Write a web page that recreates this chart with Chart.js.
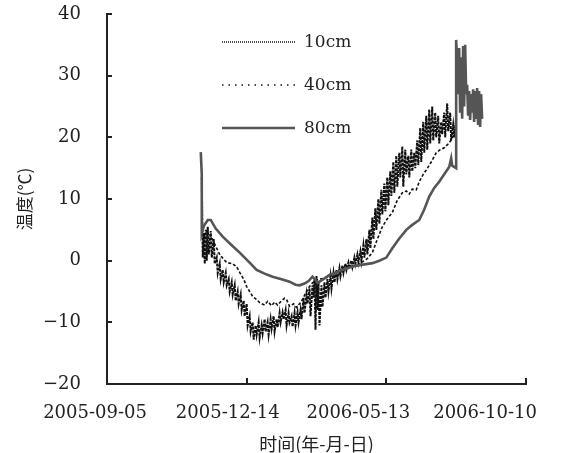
<!DOCTYPE html>
<html>
<head>
<meta charset="utf-8">
<script src="https://cdn.jsdelivr.net/npm/chart.js@4.4.0/dist/chart.umd.min.js"></script>
<style>
  body { margin: 0; background: #fff; }
  #wrap { width: 565px; height: 453px; }
</style>
</head>
<body>
<div id="wrap"><canvas id="soilTempChart" width="565" height="453"></canvas></div>
<script>
// x runs 0..420, one date label every 140 units
const xTickPos = [0, 140, 280, 420];
const xLabelPos = [-12, 121, 252, 379]; // labels sit a bit left of their ticks in the original
const xLabels = ["2005-09-05", "2005-12-14", "2006-05-13", "2006-10-10"];
const seriesNames = ["10cm", "40cm", "80cm"];

// [x, temperature °C]
const soil10 = [
  [95,13.5],[96,0.5],[97,4.5],[98,-0.5],[99,5.0],[100,0.0],[101,5.5],[102,1.0],[104,4.8],[105,0.5],
  [107,3.5],[108,-0.5],[110,0.5],[111,-2.0],[113,-0.5],[114,-3.0],[116,-1.5],[117,-3.5],[119,-2.0],[120,-4.0],
  [122,-3.0],[123,-5.0],[125,-3.5],[126,-5.5],[128,-4.0],[129,-6.5],[131,-5.0],[132,-7.0],[134,-5.5],[135,-8.0],
  [137,-6.5],[138,-9.0],[140,-7.0],[141,-10.5],[143,-9.0],[144,-11.5],[146,-10.0],[147,-12.8],[149,-10.5],[150,-12.0],
  [152,-10.0],[153,-12.5],[155,-10.5],[156,-11.8],[158,-9.5],[159,-11.5],[161,-10.0],[162,-12.0],[164,-9.5],[165,-11.0],
  [167,-9.0],[168,-11.5],[170,-9.5],[171,-10.8],[173,-8.5],[174,-10.0],[176,-8.4],[177,-9.5],[179,-8.0],[180,-10.5],
  [182,-8.5],[183,-10.0],[185,-9.0],[186,-10.7],[188,-8.5],[189,-10.5],[191,-8.4],[192,-10.0],[194,-8.0],[195,-9.5],
  [197,-6.0],[198,-8.5],[200,-5.5],[201,-7.0],[203,-4.5],[204,-9.0],[206,-4.0],[207,-6.0],[208,-3.0],[209,-11.2],
  [210,-2.5],[211,-8.0],[212,-3.5],[213,-10.5],[215,-4.0],[216,-7.5],[218,-3.5],[219,-6.0],[221,-3.0],[222,-5.0],
  [224,-2.5],[225,-4.5],[227,-2.0],[228,-3.5],[230,-1.5],[231,-3.0],[233,-1.2],[234,-2.5],[236,-0.8],[237,-2.0],
  [239,-0.5],[240,-1.5],[242,-0.3],[243,-1.2],[245,0.0],[246,-1.0],[248,0.5],[249,-0.5],[251,1.0],[252,-0.2],
  [254,1.5],[255,0.0],[257,2.5],[258,0.5],[260,3.5],[261,1.0],[263,5.0],[264,2.0],[266,7.0],[267,3.5],
  [269,8.5],[270,5.0],[272,10.0],[273,6.0],[275,11.5],[276,7.5],[278,12.5],[279,8.0],[281,13.5],[282,9.0],
  [284,14.5],[285,10.5],[287,16.0],[288,11.0],[290,17.0],[291,12.0],[293,17.5],[294,13.5],[296,18.5],[297,12.0],
  [299,18.0],[300,14.0],[302,17.0],[303,13.5],[305,18.0],[306,14.5],[308,17.5],[309,15.0],[311,19.5],[312,15.5],
  [314,21.5],[315,16.0],[317,22.5],[318,17.5],[320,23.5],[321,18.0],[323,24.5],[324,19.0],[326,25.0],[327,19.5],
  [329,24.0],[330,20.0],[332,23.5],[333,19.0],[335,22.5],[336,20.5],[338,24.0],[339,20.0],[341,25.5],[342,21.0],
  [344,24.0],[345,19.5],[347,22.0],[348,20.0],[350,23.0]
];

const soil40 = [
  [97,4.0],[100,4.8],[103,4.3],[106,3.4],[110,2.0],[113,1.0],[117,0.2],[120,-0.3],[126,-0.5],[130,-1.0],
  [133,-1.9],[137,-3.0],[140,-4.2],[143,-5.0],[146,-5.8],[150,-6.3],[153,-6.8],[158,-7.2],[161,-6.6],[165,-7.3],
  [168,-6.7],[171,-7.2],[175,-6.5],[178,-6.1],[180,-6.3],[183,-7.4],[187,-7.0],[190,-7.6],[193,-7.0],[196,-6.3],
  [199,-5.3],[203,-4.2],[206,-3.6],[210,-3.1],[216,-2.9],[223,-2.6],[230,-2.0],[236,-1.5],[243,-1.1],[250,-0.8],
  [256,-0.2],[260,0.2],[266,1.3],[271,3.5],[276,5.5],[281,6.8],[286,7.8],[291,9.8],[296,11.0],[300,11.3],
  [303,10.8],[306,11.6],[310,11.5],[313,12.8],[317,14.0],[320,14.7],[325,16.0],[330,17.5],[334,18.0],[338,18.3],
  [343,19.1],[346,19.8],[348,20.7],[350,22.0]
];

const soil80 = [
  [94,17.6],[95,14.0],[95,4.5],[97,5.6],[101,6.6],[104,6.6],[109,5.2],[116,3.9],[125,2.5],[133,1.3],
  [141,0.0],[150,-1.5],[158,-2.1],[166,-2.6],[175,-3.0],[183,-3.4],[189,-3.9],[193,-4.0],[198,-3.7],[202,-3.3],
  [206,-2.6],[209,-3.1],[211,-3.6],[217,-3.0],[223,-2.3],[230,-1.9],[236,-1.5],[243,-1.1],[250,-0.8],[258,-0.6],
  [266,-0.4],[273,0.0],[280,0.5],[286,2.0],[293,3.6],[300,5.0],[306,5.8],[313,6.6],[318,8.3],[323,10.4],
  [328,11.8],[333,12.8],[338,14.0],[343,15.2],[345,16.6],[346,15.4],[350,15.0],[350,35.8],[352,27.0],[353,34.5],
  [354,24.0],[355,33.0],[356,23.0],[357,34.8],[358,25.0],[359,35.0],[360,27.0],[361,28.5],[362,23.5],[363,27.5],
  [364,22.8],[365,27.0],[366,24.0],[367,27.8],[368,22.5],[369,27.5],[370,23.0],[371,28.0],[372,22.0],[373,27.5],
  [374,21.7],[375,27.0],[376,23.0]
];

const toPoints = (rows) => rows.map(([x, y]) => ({ x, y }));

// tick marks point into the plot in the original
const innerTicks = {
  id: "innerTicks",
  afterDraw(chart) {
    const { ctx, chartArea, scales } = chart;
    ctx.save();
    ctx.strokeStyle = "#222";
    ctx.lineWidth = 2;
    scales.y.ticks.forEach((t) => {
      const py = Math.round(scales.y.getPixelForValue(t.value));
      ctx.beginPath();
      ctx.moveTo(chartArea.left, py);
      ctx.lineTo(chartArea.left + 5, py);
      ctx.stroke();
    });
    xTickPos.forEach((v) => {
      const px = Math.round(scales.x.getPixelForValue(v));
      ctx.beginPath();
      ctx.moveTo(px, chartArea.bottom);
      ctx.lineTo(px, chartArea.bottom - 6);
      ctx.stroke();
    });
    ctx.restore();
  },
};

// legend stacked inside the plot, upper left
const plotLegend = {
  id: "plotLegend",
  afterDatasetsDraw(chart) {
    const { ctx, chartArea } = chart;
    const x0 = chartArea.left + 115;
    ctx.save();
    chart.data.datasets.forEach((ds, i) => {
      const y = chartArea.top + 28 + i * 43;
      ctx.strokeStyle = ds.borderColor;
      ctx.lineWidth = ds.legendWidth;
      ctx.setLineDash(ds.legendDash);
      ctx.beginPath();
      ctx.moveTo(x0, y);
      ctx.lineTo(x0 + 73, y);
      ctx.stroke();
      ctx.setLineDash([]);
      ctx.fillStyle = "#222";
      ctx.font = "17px 'DejaVu Serif'";
      ctx.textBaseline = "middle";
      ctx.fillText(ds.label, x0 + 82, y + 1);
    });
    ctx.restore();
  },
};

Chart.defaults.font.family = "'DejaVu Serif', serif";
Chart.defaults.color = "#222";

const ctx = document.getElementById("soilTempChart").getContext("2d");
const chart = new Chart(ctx, {
  type: "line",
  data: {
    datasets: [
      {
        label: seriesNames[0],
        data: toPoints(soil10),
        borderColor: "#111",
        borderWidth: 2,
        borderDash: [3, 1],
        legendDash: [1, 1],
        legendWidth: 1.5,
        order: 2,
      },
      {
        label: seriesNames[1],
        data: toPoints(soil40),
        borderColor: "#111",
        borderWidth: 1.6,
        borderDash: [3, 2],
        legendDash: [1.5, 5],
        legendWidth: 1.5,
        order: 1,
      },
      {
        label: seriesNames[2],
        data: toPoints(soil80),
        borderColor: "#555",
        borderWidth: 2.6,
        legendDash: [],
        legendWidth: 2.6,
        order: 0,
      },
    ],
  },
  options: {
    responsive: false,
    animation: false,
    devicePixelRatio: 1,
    layout: { padding: { top: 14, right: 39, bottom: 0, left: 0 } },
    elements: { point: { radius: 0 }, line: { tension: 0 } },
    plugins: { legend: { display: false }, tooltip: { enabled: false } },
    scales: {
      x: {
        type: "linear",
        min: 0,
        max: 420,
        grid: { display: false },
        border: { display: true, color: "#222", width: 2 },
        afterBuildTicks: (scale) => {
          scale.ticks = xLabelPos.map((v) => ({ value: v }));
        },
        afterFit: (scale) => {
          scale.height = 69;
          scale.paddingLeft = 0;
          scale.paddingRight = 0;
        },
        ticks: {
          autoSkip: false,
          maxRotation: 0,
          padding: 11,
          font: { size: 18 },
          callback: (value, index) => xLabels[index],
        },
        title: {
          display: true,
          text: "时间(年-月-日)",
          font: { family: "'Noto Sans CJK SC'", size: 18, lineHeight: 1 },
          padding: { top: 0, bottom: 0 },
        },
      },
      y: {
        min: -20,
        max: 40,
        grid: { display: false },
        border: { display: true, color: "#222", width: 2 },
        afterFit: (scale) => {
          scale.width = 107;
          scale.paddingTop = 0;
          scale.paddingBottom = 0;
        },
        ticks: {
          stepSize: 10,
          padding: 18,
          font: { size: 18 },
          callback: (value) => (value < 0 ? "\u2212" + Math.abs(value) : value),
        },
        title: {
          display: true,
          text: "温度(℃)",
          font: { family: "'Noto Sans CJK SC'", size: 17, lineHeight: 1 },
          padding: { top: 16, bottom: 0 },
        },
      },
    },
  },
  plugins: [innerTicks, plotLegend],
});
</script>
</body>
</html>
